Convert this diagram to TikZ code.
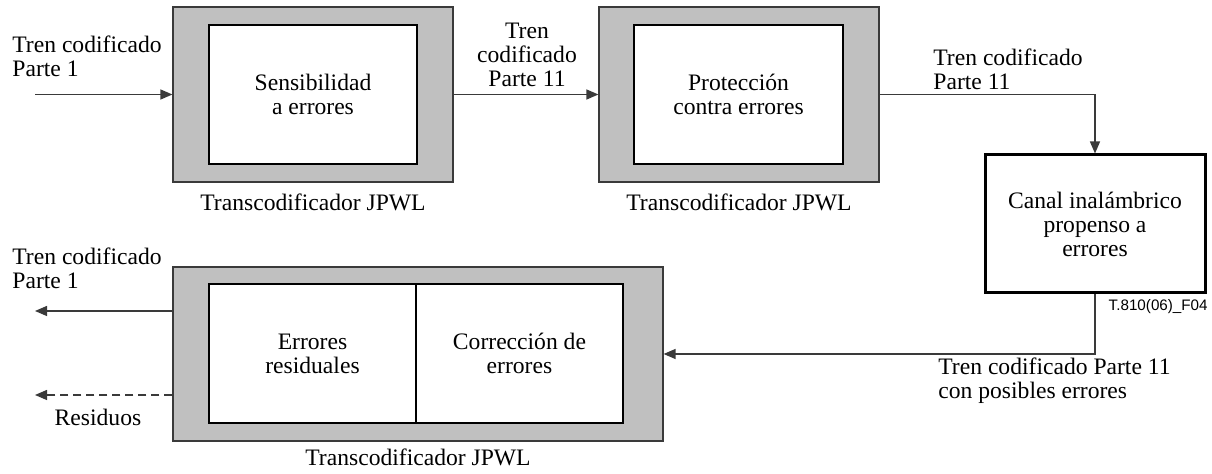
\documentclass[tikz,border=0pt]{standalone}
\usepackage{fontspec}
\setmainfont{Liberation Serif}
\newfontfamily\labsans{Liberation Sans}
\usetikzlibrary{arrows.meta}
\definecolor{boxgray}{HTML}{C0C0C0}
\definecolor{linegray}{HTML}{3A3A3A}
\tikzset{
  txt/.style={font=\fontsize{11.8}{12}\selectfont, inner sep=0pt, align=center},
  outerbox/.style={draw=linegray, line width=0.6pt, fill=boxgray, minimum width=#1*0.5pt, minimum height=87.5pt, inner sep=0pt},
  innerbox/.style={draw=black, line width=1.3pt, fill=white, minimum width=#1*0.5pt, minimum height=69.5pt, inner sep=0pt, font=\fontsize{11.8}{12}\selectfont, align=center},
  conn/.style={draw=linegray, line width=0.65pt, -{Triangle[length=6pt,width=5pt]}},
  dconn/.style={conn, dash pattern=on 4pt off 2.5pt}
}
\begin{document}
\begin{tikzpicture}[x=0.5pt,y=-0.5pt]
\useasboundingbox (0,0) rectangle (1212,474);
% top row
\node[outerbox=280] (b1) at (313,94.5) {};
\node[innerbox=208] (s1) at (313,94.5) {Sensibilidad\\a errores};
\node[outerbox=280] (b2) at (739,94.5) {};
\node[innerbox=209] (s2) at (738.5,94.5) {Protección\\contra errores};
\node[txt] (t1) at (313,202) {Transcodificador JPWL};
\node[txt] (t2) at (739,202) {Transcodificador JPWL};
% channel
\node[draw=black, line width=1.5pt, fill=white, minimum width=110pt, minimum height=69pt, inner sep=0pt, txt] (ch) at (1095,224) {Canal inalámbrico\\propenso a\\errores};
\node[anchor=east, inner sep=0pt, font=\labsans\fontsize{7.6}{8}\selectfont] (fig) at (1208,307) {T.810(06)\_F04};
% bottom
\node[outerbox=490, minimum height=87pt] (b3) at (418,354) {};
\node[innerbox=207] (s3) at (312.5,353.5) {Errores\\residuales};
\node[innerbox=207] (s4) at (519.5,353.5) {Corrección de\\errores};
\node[txt] (t3) at (418,457) {Transcodificador JPWL};
% labels
\node[txt, anchor=west, align=left] (l1) at (12,56.5) {Tren codificado\\Parte 1};
\node[txt] (l2) at (527,55) {Tren\\codificado\\Parte 11};
\node[txt, anchor=west, align=left] (l3) at (933,69.5) {Tren codificado\\Parte 11};
\node[txt, anchor=west, align=left] (l4) at (938,381) {Tren codificado Parte 11\\con posibles errores};
\node[txt, anchor=west, align=left] (l5) at (12,268.5) {Tren codificado\\Parte 1};
\node[txt] (l6) at (98,417) {Residuos};
% connectors
\coordinate (in) at (35,94.5);
\coordinate (out1) at (35,311);
\coordinate (out2) at (35,395);
\draw[conn] (in) -- (b1.west);
\draw[conn] (b1.east) -- (b2.west);
\draw[conn] (b2.east) -| (ch.north);
\draw[conn] (ch.south) |- (b3.east);
\draw[conn] (b3.west |- out1) -- (out1);
\draw[dconn] (b3.west |- out2) -- (out2);
\end{tikzpicture}
\end{document}
